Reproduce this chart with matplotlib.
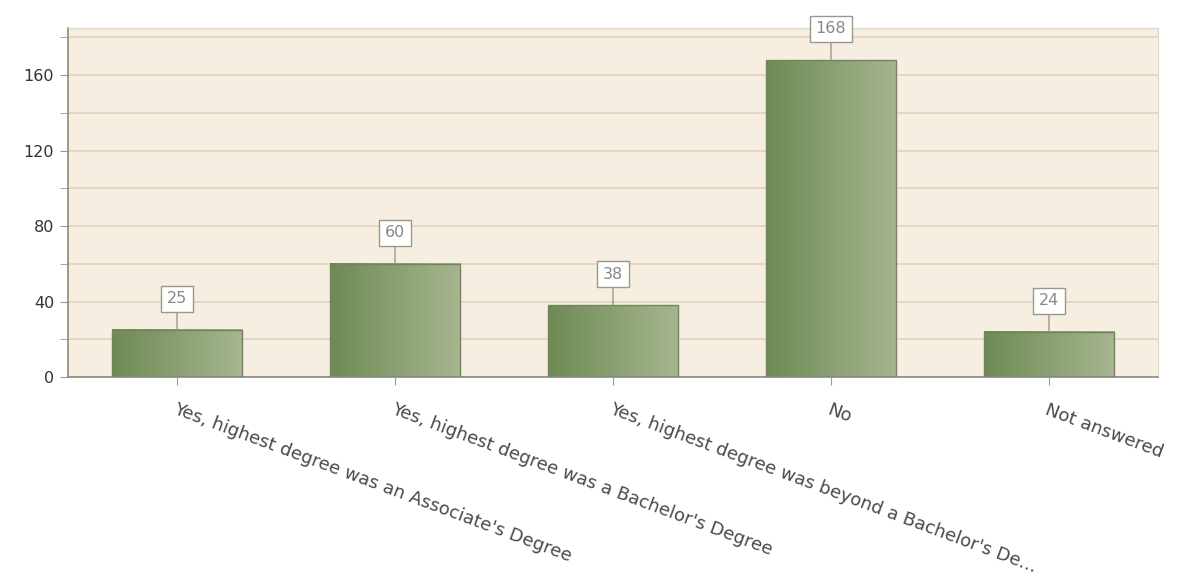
import numpy as np
import matplotlib
matplotlib.use("Agg")
import matplotlib.pyplot as plt
from matplotlib.colors import LinearSegmentedColormap

plt.rcParams['font.family'] = ['DejaVu Sans']

categories = ["Yes, highest degree was an Associate's Degree",
              "Yes, highest degree was a Bachelor's Degree",
              "Yes, highest degree was beyond a Bachelor's De...",
              "No",
              "Not answered"]
values = [25, 60, 38, 168, 24]
yticks = [0, 40, 80, 120, 160]

fig = plt.figure(figsize=(11.81, 5.84), dpi=100)
ax = fig.add_axes([0.0576, 0.3545, 0.9229, 0.5975])
ax.set_facecolor("#f6eee0")

x = np.arange(len(categories))
width = 0.6

cmap = LinearSegmentedColormap.from_list("g", ["#6e8a55", "#a6b68f"])
grad = np.linspace(0, 1, 256).reshape(1, -1)
bars = ax.bar(x, values, width=width, color="none", edgecolor="#74845f", linewidth=1, zorder=3)
for b in bars:
    bx, by = b.get_x(), b.get_y()
    bw, bh = b.get_width(), b.get_height()
    ax.imshow(grad, cmap=cmap, aspect="auto", extent=(bx, bx + bw, by, by + bh),
              zorder=2, interpolation="bicubic")
ax.set_xlim(-0.5, len(categories) - 0.5)
ax.set_ylim(0, 185)

# grid
ax.set_yticks(yticks)
ax.set_yticks(np.arange(20, 185, 40), minor=True)
ax.grid(True, axis="y", which="both", color="#ddd3bf", linewidth=1.2, zorder=1)
ax.set_axisbelow(True)
ax.tick_params(axis="y", which="both", length=6, color="#999999", labelsize=11.5,
               labelcolor="#333333", pad=4)
ax.tick_params(axis="x", length=6, color="#999999")

for s in ["top", "right"]:
    ax.spines[s].set_color("#ddd5c5")
ax.spines["left"].set_color("#8a8a80")
ax.spines["bottom"].set_color("#8a8a80")
ax.spines["left"].set_linewidth(1.2)
ax.spines["bottom"].set_linewidth(1.2)

ax.set_xticks(x)
ax.set_xticklabels(categories, rotation=-20.5, ha="left", va="top",
                   rotation_mode="anchor", fontsize=13, color="#4a4a4a")
for lbl in ax.get_xticklabels():
    lbl.set_y(-0.03)

# value labels
for xi, v in zip(x, values):
    ax.annotate(str(v), xy=(xi, v), xytext=(0, 17), textcoords="offset points",
                ha="center", va="bottom", fontsize=11.5, color="#888888",
                bbox=dict(boxstyle="square,pad=0.35", fc="white", ec="#999988", lw=1),
                arrowprops=dict(arrowstyle="-", color="#999988", lw=1, shrinkA=0, shrinkB=0),
                zorder=5, annotation_clip=False)

fig.savefig("out.png", dpi=100, facecolor="white")
